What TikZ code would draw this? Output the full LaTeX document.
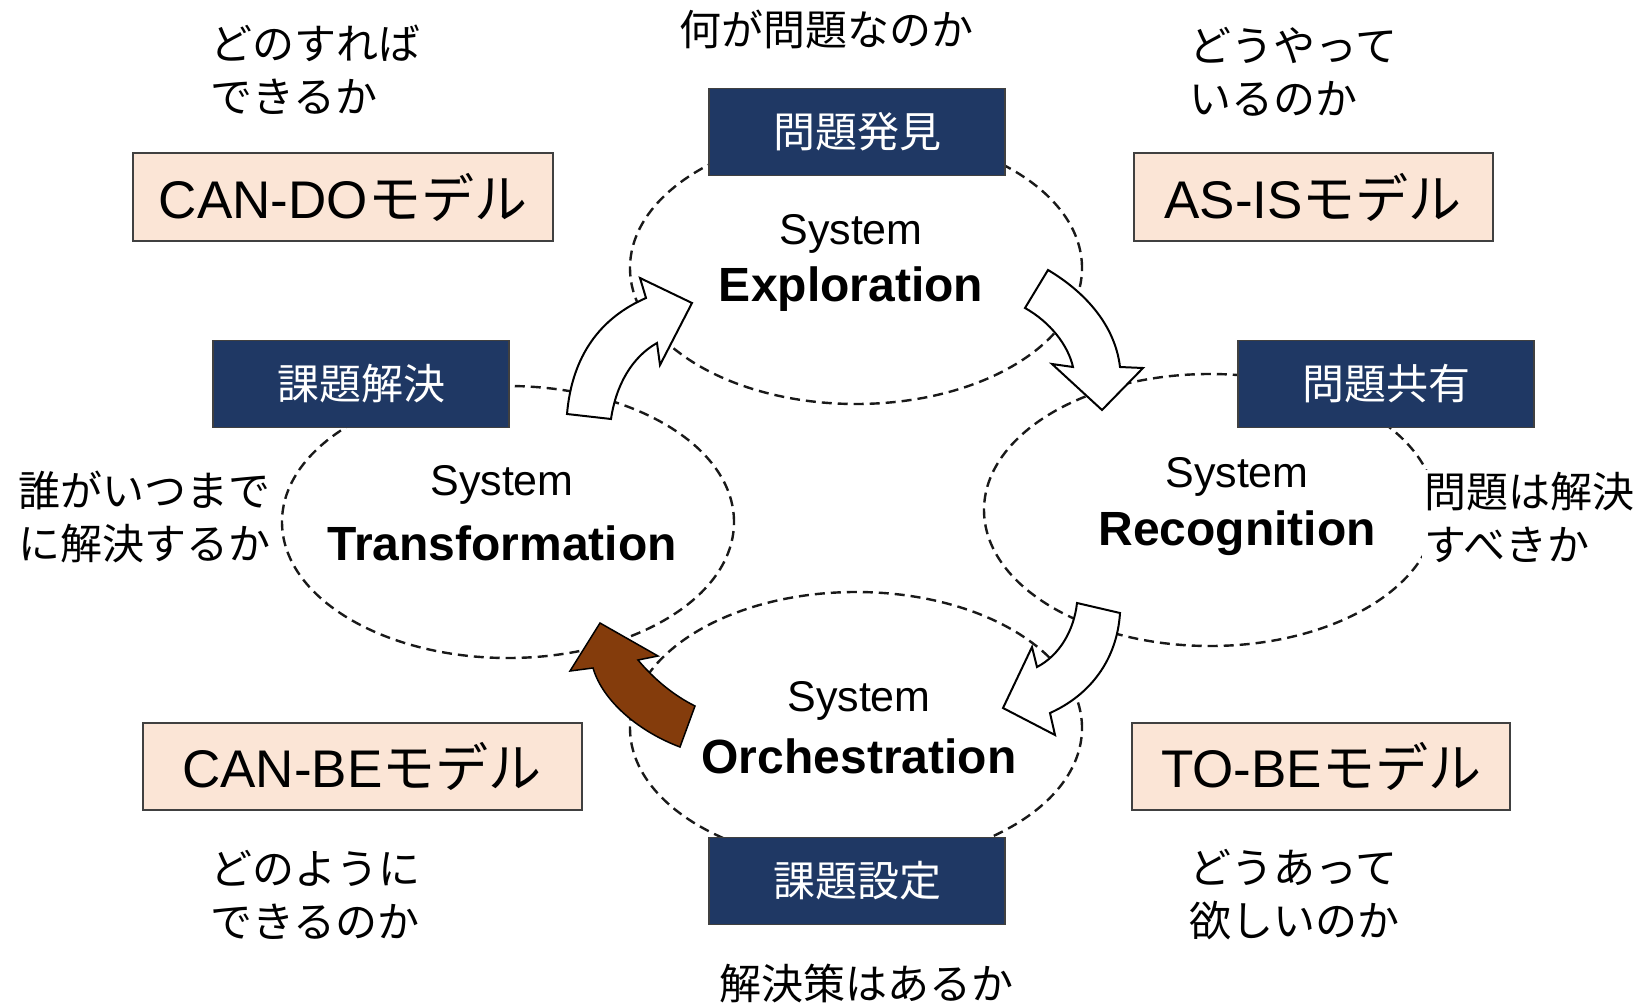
\documentclass[tikz,border=0pt]{standalone}
\usepackage{fontspec}
\setmainfont{Liberation Sans}
\newfontfamily\jp{Noto Sans CJK JP}
\usetikzlibrary{shapes.geometric}
\definecolor{navy}{RGB}{31,56,100}
\definecolor{peach}{RGB}{251,229,214}
\definecolor{brownarrow}{RGB}{132,60,12}
\begin{document}
\begin{tikzpicture}[x=1pt,y=-1pt,
  ring/.style={ellipse, draw=black!90, dash pattern=on 10pt off 6pt, line width=2.4pt,
    minimum width=452pt, minimum height=272pt, inner sep=0pt},
  navybox/.style={draw=black!75, line width=1.5pt, fill=navy, text=white,
    minimum width=296pt, minimum height=87pt, inner sep=0pt,
    font=\jp\fontsize{42}{50}\selectfont},
  modelbox/.style={draw=black!75, line width=2pt, fill=peach,
    minimum height=87pt, inner sep=0pt, font=\fontsize{53}{60}\selectfont},
  note/.style={align=left, anchor=west, inner sep=2pt,
    font=\jp\fontsize{42}{53}\selectfont},
  cnote/.style={inner sep=2pt, font=\jp\fontsize{42}{53}\selectfont},
  sysname/.style={inner sep=0pt, font=\fontsize{43}{50}\selectfont},
  sysbold/.style={inner sep=0pt, font=\bfseries\fontsize{48}{55}\selectfont},
  blockarrow/.style={draw=black, line width=2pt, line join=miter, fill=white}
]
\useasboundingbox (0,0) rectangle (1646,1003);

% dashed ellipses
\node[ring] (explo) at (856,268) {};
\node[ring] (recog) at (1210,510) {};
\node[ring] (trans) at (508,522) {};
\node[ring] (orch)  at (856,728) {};

% ellipse labels
\node[sysname] (explo1) at (851,234) {System};
\node[sysbold] (explo2) at (851,289) {Exploration};
\node[sysname] (recog1) at (1237,477) {System};
\node[sysbold] (recog2) at (1237,533) {Recognition};
\node[sysname] (trans1) at (502,485) {System};
\node[sysbold] (trans2) at (502,543) {Transformation};
\node[sysname] (orch1) at (859,701) {System};
\node[sysbold] (orch2) at (859,756) {Orchestration};

% block arrows
\draw[blockarrow] (567,414) .. controls (572,356) and (600,318) .. (646,298)
  -- (640,278) -- (692,303) -- (660,365) -- (657,343)
  .. controls (632,357) and (616,385) .. (611,419) -- cycle;
\draw[blockarrow] (1048,270) .. controls (1085,292) and (1115,325) .. (1120,367)
  -- (1143,368) -- (1102,410) -- (1052,364) -- (1073,367)
  .. controls (1068,345) and (1050,322) .. (1025,308) -- cycle;
\draw[blockarrow] (1077,603) -- (1120,613)
  .. controls (1117,660) and (1090,695) .. (1050,713)
  -- (1055,735) -- (1003,708) -- (1032,647) -- (1037,667)
  .. controls (1060,655) and (1074,630) .. (1077,603) -- cycle;
\draw[blockarrow, fill=brownarrow, line width=1.5pt] (600,623) -- (658,656) -- (638,660)
  .. controls (654,679) and (673,695) .. (695,706) -- (680,747)
  .. controls (640,732) and (603,702) .. (593,668) -- (570,671) -- cycle;

% navy boxes
\node[navybox] (hakken) at (857,132) {問題発見};
\node[navybox] (kyoyu) at (1386,384) {問題共有};
\node[navybox] (kaiketsu) at (361,384) {課題解決};
\node[navybox] (settei) at (857,881) {課題設定};

% model boxes
\node[modelbox, minimum width=420pt] (cando) at (343,197) {CAN-DO{\jp モデル}};
\node[modelbox, minimum width=359pt] (asis) at (1313,197) {AS-IS{\jp モデル}};
\node[modelbox, minimum width=439pt] (canbe) at (362,766) {CAN-BE{\jp モデル}};
\node[modelbox, minimum width=378pt] (tobe) at (1321,766) {TO-BE{\jp モデル}};

% notes
\node[note] (n1) at (208,70) {どのすれば\\できるか};
\node[cnote] (n2) at (826,29) {何が問題なのか};
\node[note] (n3) at (1187,72) {どうやって\\いるのか};
\node[note] (n4) at (16,517) {誰がいつまで\\に解決するか};
\node[note, fill=white] (n5) at (1422,517) {問題は解決\\すべきか};
\node[note] (n6) at (208,895) {どのように\\できるのか};
\node[note] (n7) at (1187,895) {どうあって\\欲しいのか};
\node[cnote] (n8) at (866,983) {解決策はあるか};
\end{tikzpicture}
\end{document}
